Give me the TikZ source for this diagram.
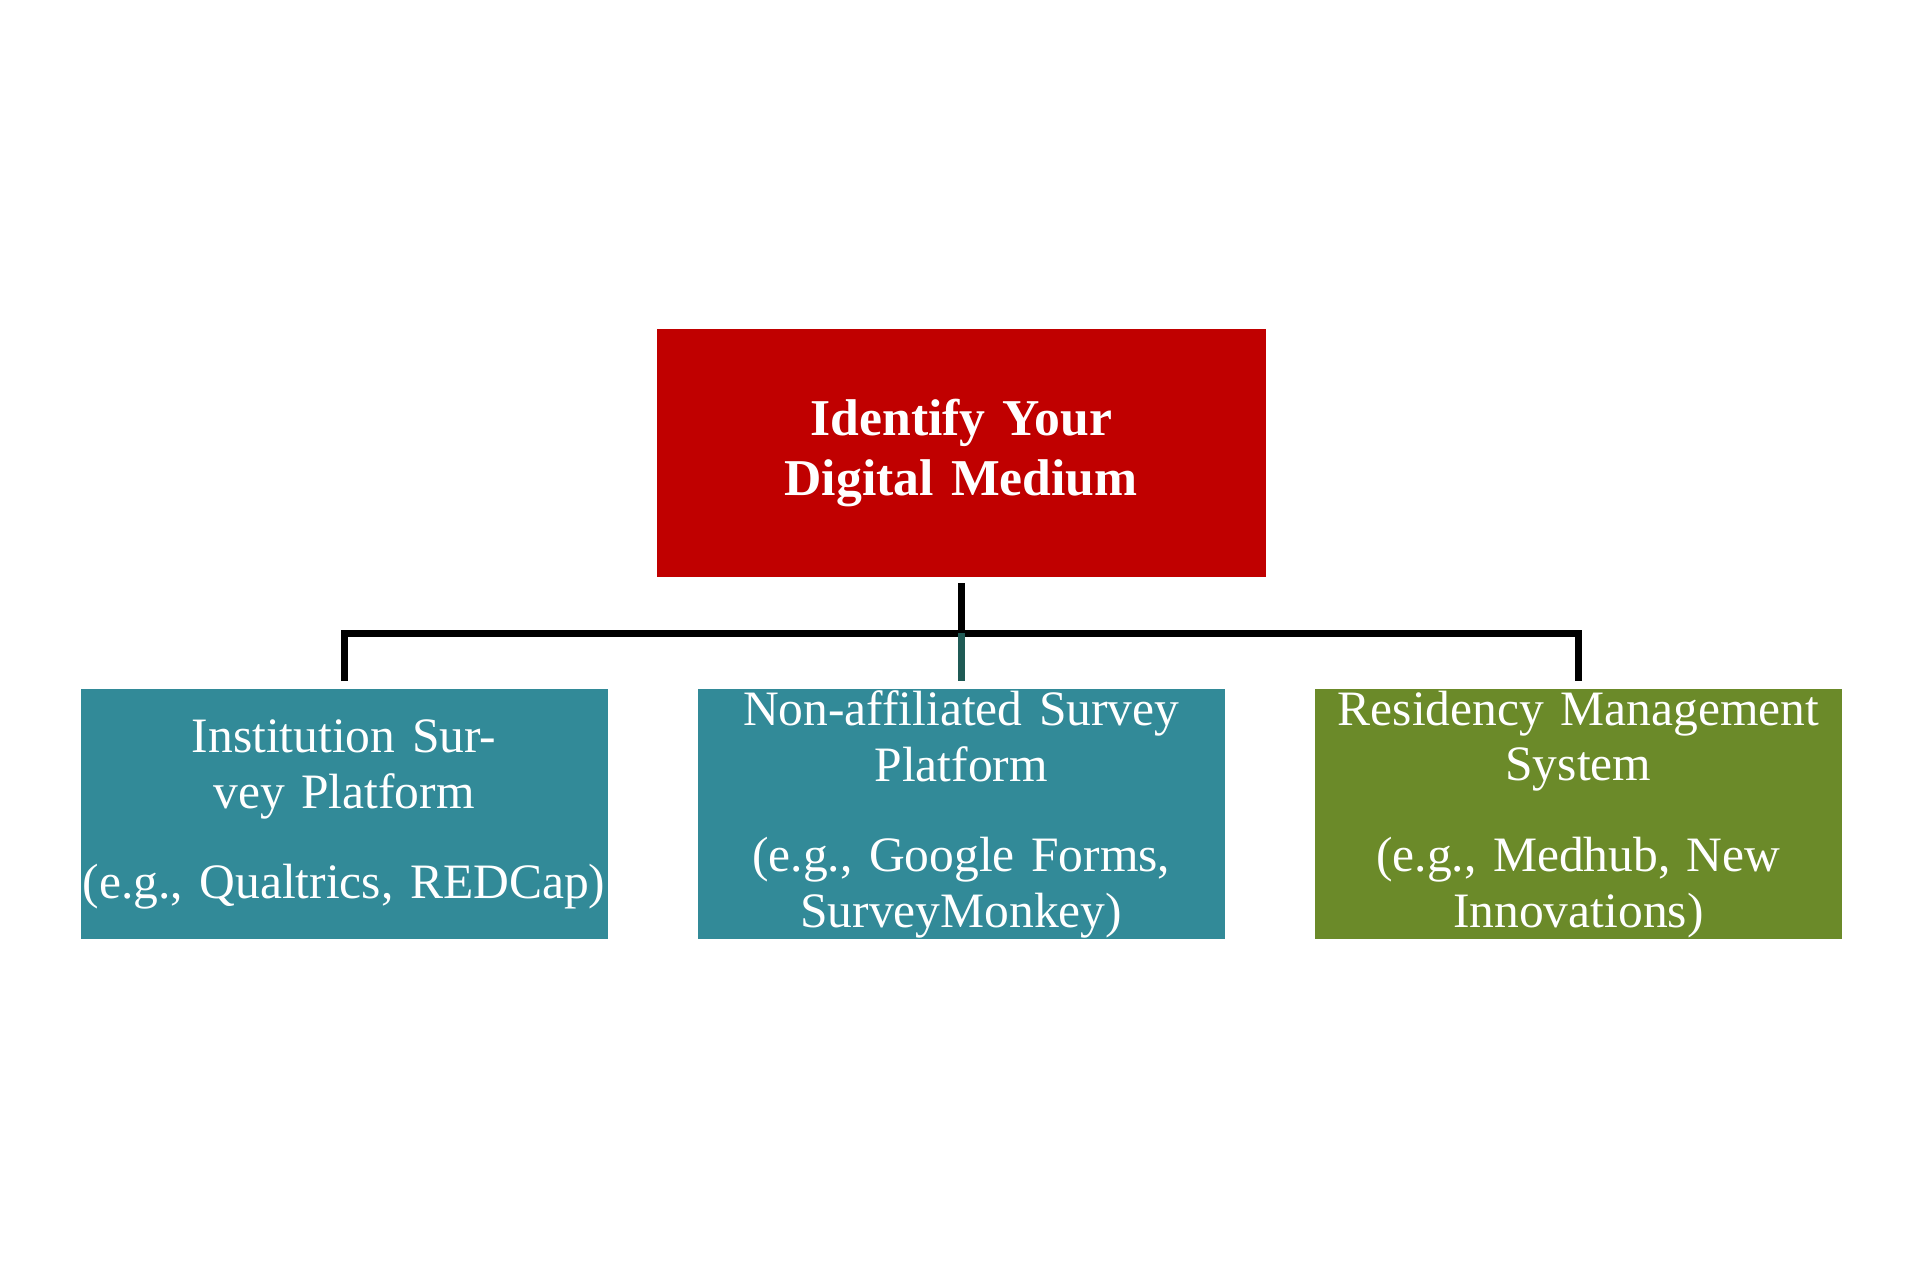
\documentclass[tikz,border=0pt]{standalone}
\usepackage{fontspec}
\setmainfont{Liberation Serif}
\usetikzlibrary{positioning}
\definecolor{topred}{HTML}{C00000}
\definecolor{platteal}{HTML}{328A98}
\definecolor{sysgreen}{HTML}{6B8A29}
\definecolor{linkteal}{HTML}{1F5A55}
\tikzset{
  box/.style={draw=none,minimum width=4.12cm,minimum height=2.04cm,inner sep=0pt,
    text=white,align=center,font=\fontsize{11.5}{13}\selectfont,text width=4.3cm},
  link/.style={line width=1.6pt}
}
\begin{document}
\begin{tikzpicture}[x=0.01cm,y=-0.01cm]
\useasboundingbox (0,0) rectangle (1568,1047);

% top box
\node[box,fill=topred,minimum width=4.97cm,minimum height=2.03cm,text width=4.9cm,
  font=\fontsize{12}{14}\selectfont\bfseries] (medium) at (785,370) {Identify Your Digital Medium};

% platform boxes
\node[box,fill=platteal] (inst) at (281,665) {Institution Survey Platform\\[8pt](e.g., Qualtrics, REDCap)};
\node[box,fill=platteal] (nonaff) at (785,665) {Non-affiliated Survey\\Platform\\[8pt](e.g., Google Forms,\\SurveyMonkey)};
\node[box,fill=sysgreen] (resid) at (1289,665) {Residency Management\\System\\[8pt](e.g., Medhub, New\\Innovations)};

% connectors
\coordinate (split) at (785,517);
\draw[link] ([yshift=-0.04cm]medium.south) -- (split);
\draw[link] ([yshift=0.06cm]inst.north) |- (split) -| ([yshift=0.06cm]resid.north);
\draw[link,linkteal] (split) -- ([yshift=0.06cm]nonaff.north);
\end{tikzpicture}
\end{document}
